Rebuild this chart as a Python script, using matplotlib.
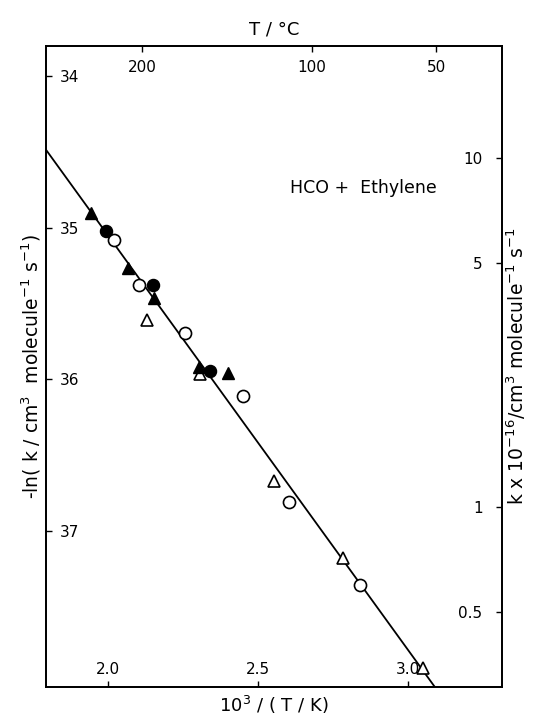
import numpy as np
import matplotlib.pyplot as plt
from matplotlib.ticker import FixedLocator, FixedFormatter, NullLocator

# data: x = 1000/T (K^-1), y = -ln k
x_filled_tri = [1.942, 2.068, 2.154, 2.304, 2.399]
y_filled_tri = [34.903, 35.266, 35.464, 35.916, 35.959]

x_filled_circ = [1.993, 2.149, 2.340]
y_filled_circ = [35.024, 35.378, 35.942]

x_open_circ = [2.021, 2.102, 2.256, 2.449, 2.604, 2.840]
y_open_circ = [35.079, 35.378, 35.695, 36.109, 36.807, 37.356]

x_open_tri = [2.131, 2.307, 2.554, 2.784, 3.049]
y_open_tri = [35.607, 35.966, 36.668, 37.180, 37.906]

# fitted line  -ln k = a + b * 10^3/T
fit_a = 29.581
fit_b = 2.735

x_ticks = [2.0, 2.5, 3.0]
x_tick_labels = ["2.0", "2.5", "3.0"]
y_ticks = [34, 35, 36, 37]
t_ticks_c = [200, 100, 50]
k_ticks = [10, 5, 1, 0.5]
k_tick_labels = ["10", "5", "1", "0.5"]

xlim = (1.793, 3.313)
ylim = (38.03, 33.80)
k_offset = 16 * np.log(10)   # -ln k = -ln(k x 1e16) + 16 ln10

fig = plt.figure(figsize=(5.33, 7.16), dpi=100)
ax = fig.add_axes([0.0863, 0.0405, 0.8555, 0.8953])

xs = np.array(xlim)
ax.plot(xs, fit_a + fit_b * xs, color="black", lw=1.3, zorder=2)

ms = 8.7
ax.plot(x_open_circ, y_open_circ, "o", ms=ms, mfc="white", mec="black", mew=1.2, zorder=3)
ax.plot(x_open_tri, y_open_tri, "^", ms=ms, mfc="white", mec="black", mew=1.2, zorder=3)
ax.plot(x_filled_circ, y_filled_circ, "o", ms=ms, color="black", zorder=4)
ax.plot(x_filled_tri, y_filled_tri, "^", ms=ms, color="black", zorder=4)

ax.text(2.607, 34.736, "HCO +  Ethylene", fontsize=12.5, ha="left", va="center")

ax.set_xlim(xlim)
ax.set_ylim(ylim)
ax.set_xticks(x_ticks)
ax.set_xticklabels(x_tick_labels)
ax.set_yticks(y_ticks)
ax.tick_params(axis="x", direction="in", length=4, width=1, labelsize=11, pad=-7)
ax.tick_params(axis="y", direction="in", length=4, width=1, labelsize=11, pad=-10)
plt.setp(ax.get_xticklabels(), va="bottom")
plt.setp(ax.get_yticklabels(), ha="left")
ax.set_xlabel(r"10$^3$ / ( T / K)", fontsize=13, labelpad=5)
ax.set_ylabel(r"-ln( k / cm$^3$  molecule$^{-1}$ s$^{-1}$)", fontsize=13.5, labelpad=2)

# top axis: temperature in deg C
ax_top = ax.twiny()
ax_top.set_xlim(xlim)
ax_top.set_xticks([1000.0 / (t + 273.15) for t in t_ticks_c])
ax_top.set_xticklabels([str(t) for t in t_ticks_c])
ax_top.tick_params(axis="x", direction="in", length=4, width=1, labelsize=11, pad=-10)
plt.setp(ax_top.get_xticklabels(), va="top")
ax_top.set_xlabel("T / °C", fontsize=13, labelpad=8)

# right axis: k x 10^-16 on log scale
ax_r = ax.twinx()
ax_r.set_yscale("log")
ax_r.set_ylim(np.exp(k_offset - ylim[0]), np.exp(k_offset - ylim[1]))
ax_r.yaxis.set_major_locator(FixedLocator(k_ticks))
ax_r.yaxis.set_major_formatter(FixedFormatter(k_tick_labels))
ax_r.yaxis.set_minor_locator(NullLocator())
ax_r.tick_params(axis="y", direction="in", length=4, width=1, labelsize=11, pad=-14)
plt.setp(ax_r.get_yticklabels(), ha="right")
ax_r.set_ylabel(r"k x 10$^{-16}$/cm$^3$ molecule$^{-1}$ s$^{-1}$", fontsize=13.5, labelpad=2)

for a in (ax, ax_top, ax_r):
    for s in a.spines.values():
        s.set_linewidth(1.1)

fig.savefig("out.png", dpi=100)
